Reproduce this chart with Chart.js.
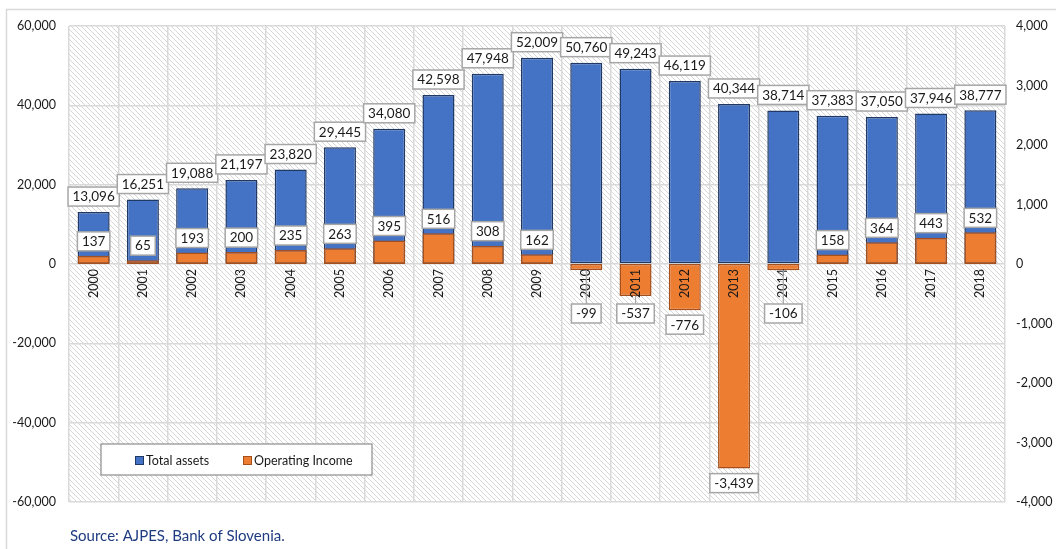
<!DOCTYPE html>
<html lang="en">
<head>
<meta charset="UTF-8">
<title>Total assets and operating income</title>
<script src="https://cdn.jsdelivr.net/npm/chart.js@4"></script>
<style>
  html, body { margin: 0; padding: 0; background: #fff; }
  #wrap { width: 1056px; height: 549px; position: relative; }
</style>
</head>
<body>
<div id="wrap"><canvas id="chart"></canvas></div>
<script>
// Values
const years = ['2000', '2001', '2002', '2003', '2004', '2005', '2006', '2007', '2008', '2009',
  '2010', '2011', '2012', '2013', '2014', '2015', '2016', '2017', '2018'];
const totalAssets = [13096, 16251, 19088, 21197, 23820, 29445, 34080, 42598, 47948, 52009,
  50760, 49243, 46119, 40344, 38714, 37383, 37050, 37946, 38777];
const operatingIncome = [137, 65, 193, 200, 235, 263, 395, 516, 308, 162,
  -99, -537, -776, -3439, -106, 158, 364, 443, 532];
const seriesNames = ['Total assets', 'Operating Income'];
const sourceNote = 'Source: AJPES, Bank of Slovenia.';

const FONT = 'Lato, "Open Sans", sans-serif';
const BLUE = '#4472C4', BLUE_EDGE = '#203864';
const ORANGE = '#ED7D31', ORANGE_EDGE = '#A5501C';
const GRID = '#d9d9d9';

const fmt = v => Math.round(v).toLocaleString('en-US');

// diagonal hatch used behind the plot
function makeHatch() {
  const c = document.createElement('canvas');
  c.width = 5; c.height = 5;
  const g = c.getContext('2d');
  g.fillStyle = '#fff';
  g.fillRect(0, 0, 5, 5);
  g.strokeStyle = '#d6d6d6';
  g.lineWidth = 1;
  g.beginPath();
  g.moveTo(-1, -1); g.lineTo(6, 6);
  g.moveTo(-1, 4); g.lineTo(1, 6);
  g.moveTo(4, -1); g.lineTo(6, 1);
  g.stroke();
  return g.createPattern(c, 'repeat');
}

function labelBox(ctx, text, cx, top) {
  ctx.font = '13.5px ' + FONT;
  const w = ctx.measureText(text).width + 9;
  const h = 19;
  ctx.fillStyle = '#fff';
  ctx.fillRect(cx - w / 2, top, w, h);
  ctx.strokeStyle = '#a6a6a6';
  ctx.lineWidth = 1.5;
  ctx.strokeRect(cx - w / 2, top, w, h);
  ctx.fillStyle = '#1a1a1a';
  ctx.textAlign = 'center';
  ctx.textBaseline = 'middle';
  ctx.fillText(text, cx, top + h / 2 + 0.5);
}

const backdrop = {
  id: 'backdrop',
  beforeDraw(chart) {
    const { ctx, chartArea: a } = chart;
    ctx.save();
    ctx.strokeStyle = GRID;
    ctx.lineWidth = 1.5;
    ctx.strokeRect(6.5, 9.5, chart.width + 10, chart.height + 10);
    ctx.fillStyle = makeHatch();
    ctx.fillRect(a.left, a.top, a.right - a.left, a.bottom - a.top);
    ctx.restore();
  }
};

const labels = {
  id: 'labels',
  afterDatasetsDraw(chart) {
    const { ctx } = chart;
    const y1 = chart.scales.y1;
    const zeroY = y1.getPixelForValue(0);
    const blueMeta = chart.getDatasetMeta(1);
    const orangeMeta = chart.getDatasetMeta(0);
    ctx.save();

    // year labels, rotated, hanging under the zero line
    ctx.font = '12.5px ' + FONT;
    ctx.fillStyle = '#1a1a1a';
    years.forEach((yr, i) => {
      const x = chart.scales.x.getPixelForValue(i);
      ctx.save();
      ctx.translate(x, zeroY + 5);
      ctx.rotate(-Math.PI / 2);
      ctx.textAlign = 'right';
      ctx.textBaseline = 'middle';
      ctx.fillText(yr, 0, 0);
      ctx.restore();
    });

    // total assets labels above the blue bars
    blueMeta.data.forEach((bar, i) => {
      labelBox(ctx, fmt(totalAssets[i]), bar.x, bar.y - 6 - 19);
    });

    // operating income labels
    orangeMeta.data.forEach((bar, i) => {
      const v = operatingIncome[i];
      if (v >= 0) {
        labelBox(ctx, fmt(v), bar.x, bar.y - 5 - 19);
      } else {
        const top = Math.max(bar.y + 5, zeroY + 40);
        if (top - bar.y > 6) {
          ctx.strokeStyle = '#a6a6a6';
          ctx.lineWidth = 1.2;
          ctx.beginPath();
          ctx.moveTo(bar.x, bar.y);
          ctx.lineTo(bar.x, top);
          ctx.stroke();
        }
        labelBox(ctx, fmt(v), bar.x, top);
      }
    });
    ctx.restore();
  },
  afterDraw(chart) {
    const { ctx } = chart;
    ctx.save();
    // legend box inside the plot
    const lx = 101, ly = 444, lw = 271, lh = 31;
    ctx.fillStyle = '#fff';
    ctx.fillRect(lx, ly, lw, lh);
    ctx.strokeStyle = '#8c8c8c';
    ctx.lineWidth = 1.2;
    ctx.strokeRect(lx, ly, lw, lh);
    const items = [
      { name: seriesNames[0], fill: BLUE, edge: BLUE_EDGE, x: 135 },
      { name: seriesNames[1], fill: ORANGE, edge: ORANGE_EDGE, x: 243 }
    ];
    ctx.font = '12.5px ' + FONT;
    ctx.textAlign = 'left';
    ctx.textBaseline = 'middle';
    items.forEach(it => {
      ctx.fillStyle = it.fill;
      ctx.fillRect(it.x, 456, 8, 8);
      ctx.strokeStyle = it.edge;
      ctx.lineWidth = 1;
      ctx.strokeRect(it.x + 0.5, 456.5, 8, 8);
      ctx.fillStyle = '#1a1a1a';
      ctx.fillText(it.name, it.x + 11, 460.5);
    });

    // source note
    ctx.font = '15px ' + FONT;
    ctx.fillStyle = '#1f3b80';
    ctx.textBaseline = 'alphabetic';
    ctx.fillText(sourceNote, 70, 541);
    ctx.restore();
  }
};

new Chart(document.getElementById('chart'), {
  type: 'bar',
  data: {
    labels: years,
    datasets: [
      {
        label: seriesNames[1],
        data: operatingIncome,
        yAxisID: 'y1',
        order: 0,
        grouped: false,
        backgroundColor: ORANGE,
        borderColor: ORANGE_EDGE,
        borderWidth: 1.5,
        borderSkipped: false,
        barPercentage: 0.65,
        categoryPercentage: 1
      },
      {
        label: seriesNames[0],
        data: totalAssets,
        yAxisID: 'y',
        order: 1,
        grouped: false,
        backgroundColor: BLUE,
        borderColor: BLUE_EDGE,
        borderWidth: 1.5,
        borderSkipped: false,
        barPercentage: 0.65,
        categoryPercentage: 1
      }
    ]
  },
  options: {
    responsive: true,
    maintainAspectRatio: false,
    animation: false,
    layout: { padding: { left: 0, right: 0, top: 26, bottom: 0 } },
    plugins: {
      legend: { display: false },
      tooltip: { enabled: false }
    },
    scales: {
      x: {
        offset: true,
        grid: { color: GRID, lineWidth: 1.5, offset: true, drawTicks: false },
        border: { display: false },
        ticks: { display: false },
        afterFit(scale) { scale.height = 47; }
      },
      y: {
        position: 'left',
        min: -60000,
        max: 60000,
        ticks: {
          stepSize: 20000,
          padding: 13,
          color: '#1a1a1a',
          font: { family: FONT, size: 12.5 },
          callback: v => fmt(v)
        },
        grid: { color: GRID, lineWidth: 1.5, drawTicks: false },
        border: { display: false },
        afterFit(scale) { scale.width = 69; }
      },
      y1: {
        position: 'right',
        min: -4000,
        max: 4000,
        ticks: {
          stepSize: 1000,
          padding: 11,
          color: '#1a1a1a',
          font: { family: FONT, size: 12.5 },
          callback: v => fmt(v)
        },
        grid: { display: false, drawTicks: false },
        border: { display: false },
        afterFit(scale) { scale.width = 51; }
      }
    }
  },
  plugins: [backdrop, labels]
});
</script>
</body>
</html>
